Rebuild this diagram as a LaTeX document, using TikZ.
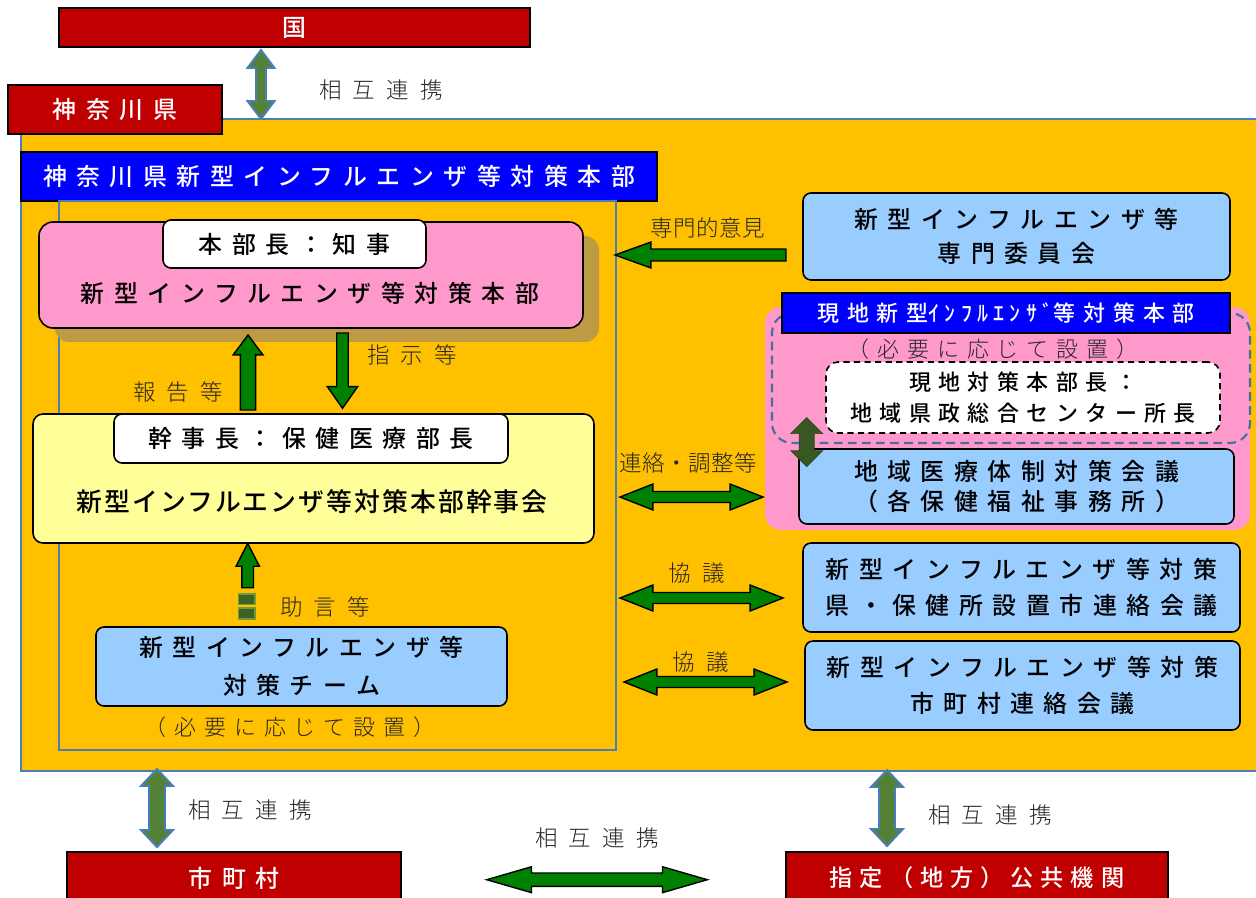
\documentclass[tikz,border=0pt]{standalone}
\usepackage{fontspec}
\IfFontExistsTF{Noto Sans CJK JP Medium}
  {\setmainfont{Noto Sans CJK JP}[BoldFont={Noto Sans CJK JP Medium}]}
  {\setmainfont{Noto Sans CJK JP}}
\IfFontExistsTF{Noto Sans CJK JP Light}
  {\newfontfamily\labfont{Noto Sans CJK JP Light}}
  {\newfontfamily\labfont{Noto Sans CJK JP}}
\usetikzlibrary{calc,positioning,shadows}
\definecolor{kenred}{HTML}{C00000}
\definecolor{panelbg}{HTML}{FFC000}
\definecolor{barblue}{HTML}{0000FF}
\definecolor{pinkbg}{HTML}{FF99CC}
\definecolor{creambg}{HTML}{FFFF99}
\definecolor{skybg}{HTML}{99CCFF}
\definecolor{arrgreen}{HTML}{008000}
\definecolor{arrolive}{HTML}{548235}
\definecolor{arrdark}{HTML}{385723}
\definecolor{frameblue}{HTML}{4A7EBB}
\definecolor{dashblue}{HTML}{41719C}
\definecolor{shadowtan}{HTML}{BE9A45}
\definecolor{labtext}{HTML}{262626}
\definecolor{sqfill}{HTML}{3F6128}
\definecolor{sqedge}{HTML}{6E9A3A}
\newcommand{\pxu}{0.5669pt}
\newcommand{\jpf}[3]{\fontsize{#1}{#2}\selectfont\addfontfeature{LetterSpace=#3}}
\tikzset{
  sz/.style 2 args={minimum width=#1*0.02cm, minimum height=#2*0.02cm, inner sep=0pt, outer sep=0pt},
  panel/.style={draw=frameblue, line width=0.8pt, fill=panelbg},
  innerframe/.style={draw=frameblue, line width=0.8pt},
  redbox/.style={draw=black, line width=0.8pt, fill=kenred, text=white, font=\bfseries\jpf{13.6pt}{20pt}{40}},
  bluebar/.style={draw=black, line width=0.8pt, fill=barblue, text=white, font=\bfseries\jpf{13.6pt}{20pt}{40}},
  pinkbox/.style={draw=black, line width=0.9pt, fill=pinkbg, rounded corners=0.28cm,
    drop shadow={shadow xshift=0.32cm, shadow yshift=-0.28cm, fill=shadowtan, opacity=1}},
  creambox/.style={draw=black, line width=0.9pt, fill=creambg, rounded corners=0.2cm},
  skybox/.style={draw=black, line width=0.9pt, fill=skybg, rounded corners=0.16cm, align=center,
    font=\bfseries\jpf{13.6pt}{20.5pt}{40}},
  whitelab/.style={draw=black, line width=0.9pt, fill=white, rounded corners=0.16cm,
    font=\bfseries\jpf{13.6pt}{20pt}{40}},
  boxtxt/.style={font=\bfseries\jpf{13.6pt}{20pt}{40}},
  pinkregion/.style={fill=pinkbg, rounded corners=0.32cm},
  dashregion/.style={draw=dashblue, line width=1.2pt, dash pattern=on 5pt off 3pt, rounded corners=0.4cm},
  whitedash/.style={draw=black, line width=0.9pt, dash pattern=on 3.5pt off 2.5pt, fill=white,
    rounded corners=0.24cm, align=center, font=\bfseries\jpf{12.5pt}{18pt}{34}},
  lab/.style={text=labtext, font=\labfont\jpf{12.8pt}{16pt}{50}},
  labdense/.style={text=labtext, font=\labfont\jpf{12.8pt}{16pt}{2}},
  setnote/.style={text=labtext, font=\labfont\jpf{12.5pt}{16pt}{36}},
  greenarr/.style={fill=arrgreen, draw=black, line width=0.8pt},
  olivearr/.style={fill=arrolive, draw=frameblue, line width=1.1pt},
  darkarr/.style={fill=arrdark, draw=arrdark!80!black, line width=0.4pt},
  dashsq/.style={fill=sqfill, draw=sqedge, line width=1pt},
  hd/.code args={#1/#2/#3}{\def\hl{#1}\def\hw{#2}\def\sw{#3}},
  rot/.style={shift={(\p1)}, rotate=\n1},
  dblarrow/.style={to path={
    let \p1=(\tikztostart), \p2=(\tikztotarget),
        \n1={atan2(\y2-\y1,\x2-\x1)}, \n2={veclen(\x2-\x1,\y2-\y1)} in
    ([rot]0pt,0pt) -- ([rot]\hl*\pxu,\hw*\pxu) -- ([rot]\hl*\pxu,\sw*\pxu)
    -- ([rot]\n2*1pt-\hl*\pxu,\sw*\pxu) -- ([rot]\n2*1pt-\hl*\pxu,\hw*\pxu) -- ([rot]\n2*1pt,0pt)
    -- ([rot]\n2*1pt-\hl*\pxu,-\hw*\pxu) -- ([rot]\n2*1pt-\hl*\pxu,-\sw*\pxu)
    -- ([rot]\hl*\pxu,-\sw*\pxu) -- ([rot]\hl*\pxu,-\hw*\pxu) -- cycle}},
  sglarrow/.style={to path={
    let \p1=(\tikztostart), \p2=(\tikztotarget),
        \n1={atan2(\y2-\y1,\x2-\x1)}, \n2={veclen(\x2-\x1,\y2-\y1)} in
    ([rot]0pt,\sw*\pxu) -- ([rot]\n2*1pt-\hl*\pxu,\sw*\pxu) -- ([rot]\n2*1pt-\hl*\pxu,\hw*\pxu)
    -- ([rot]\n2*1pt,0pt) -- ([rot]\n2*1pt-\hl*\pxu,-\hw*\pxu) -- ([rot]\n2*1pt-\hl*\pxu,-\sw*\pxu)
    -- ([rot]0pt,-\sw*\pxu) -- cycle}},
}
\begin{document}
\begin{tikzpicture}[x=0.02cm, y=-0.02cm]
\useasboundingbox (0,0) rectangle (1256,898);

% prefecture panel
\node[panel, sz={1241}{652}] (pref) at (641.5,445) {};
\node[redbox, sz={214}{49}] (ken) at (115,109.5) {神奈川県};
\node[redbox, sz={471}{39}] (kuni) at (294.5,27.5) {国};
\node[bluebar, sz={636}{49}] (hq) at (339,176.5) {神奈川県新型インフルエンザ等対策本部};
\node[innerframe, sz={557}{549}] (frame) at (337.5,475.5) {};

% headquarters
\node[pinkbox, sz={544}{106}] (honbu) at (311,275) {};
\node[whitelab, sz={263}{48}] (chief) at (294.5,244) {本部長：知事};
\node[boxtxt] (honbutxt) at (310,293) {新型インフルエンザ等対策本部};

\node[creambox, sz={561}{129}] (kanji) at (313.5,478.5) {};
\node[whitelab, sz={394}{49}] (kanjichief) at (311,438.5) {幹事長：保健医療部長};
\node[font=\bfseries\jpf{14.7pt}{20pt}{8}] (kanjitxt) at (312,502) {新型インフルエンザ等対策本部幹事会};

\node[skybox, sz={411}{79}] (team) at (301.5,666.5) {新型インフルエンザ等\\[1pt]対策チーム};
\node[setnote] (teamnote) at (290,727) {（必要に応じて設置）};

% right column
\node[skybox, sz={427}{87}] (senmon) at (1016.5,236.5) {新型インフルエンザ等\\[-1pt]専門委員会};
\node[pinkregion, sz={485}{223}] (genpink) at (1007.5,418.5) {};
\node[dashregion, sz={478}{130}] (gendash) at (1011,378) {};
\node[bluebar, sz={448}{40}, font=\bfseries\jpf{12.5pt}{18pt}{36}] (genhq) at (1006,313)
  {現地新型{\addfontfeature{LetterSpace=24}ｲﾝﾌﾙｴﾝｻﾞ}等対策本部};
\node[setnote] (gennote) at (993,349) {（必要に応じて設置）};
\node[whitedash, sz={394}{71}] (genchief) at (1023,397.5) {現地対策本部長：\\地域県政総合センター所長};
\node[skybox, sz={435}{75}] (chiiki) at (1016.5,486.5) {地域医療体制対策会議\\[-3pt]（各保健福祉事務所）};
\node[skybox, sz={437}{89}] (kyogi1) at (1021.5,587.5) {新型インフルエンザ等対策\\県・保健所設置市連絡会議};
\node[skybox, sz={435}{89}] (kyogi2) at (1022.5,685.5) {新型インフルエンザ等対策\\市町村連絡会議};

% outside bodies
\node[redbox, sz={334}{52}] (shichoson) at (234,878) {市町村};
\node[redbox, sz={382}{52}, font=\bfseries\jpf{13.2pt}{20pt}{30}] (shitei) at (977,878) {指定（地方）公共機関};

% arrows
\coordinate (a1) at ([shift={(-33.5,3)}]kuni.south);
\draw[olivearr, dblarrow, hd=18/13.5/5] (a1) to (a1 |- pref.north);
\coordinate (b1) at ([shift={(-65.5,-4)}]kanji.north);
\draw[greenarr, sglarrow, hd=20/15/7.7] (b1) to ($(b1 |- honbu.south)+(0,7)$);
\coordinate (c1) at ([shift={(31.5,5)}]honbu.south);
\draw[greenarr, sglarrow, hd=21.7/15.2/5.8] (c1) to ($(c1 |- kanji.north)+(0,-5.7)$);
\coordinate (d1) at ([shift={(-53.8,-39.3)}]team.north);
\draw[greenarr, sglarrow, hd=23/11.7/5.8] (d1) to ($(d1 |- kanji.south)+(0,0.3)$);
\draw[dashsq] ([shift={(-9.3,6)}]d1) rectangle ++(16.7,10.7);
\draw[dashsq] ([shift={(-9.3,20.6)}]d1) rectangle ++(16.7,11);
\coordinate (e1) at ([shift={(-17,18.5)}]senmon.west);
\draw[greenarr, sglarrow, hd=36/13/6] (e1) to ($(e1 -| frame.east)+(-1,0)$);
\draw[greenarr, dblarrow, hd=33/13/5.5] ($(frame.east |- chiiki.west)+(4,10.5)$) to ($(genpink.west |- chiiki.west)+(-2,10.5)$);
\draw[greenarr, dblarrow, hd=33/13/5.5] ($(frame.east |- kyogi1.west)+(4,10.5)$) to ($(kyogi1.west)+(-20,10.5)$);
\draw[greenarr, dblarrow, hd=33/13/5.5] ($(frame.east |- kyogi2.west)+(8,-3.5)$) to ($(kyogi2.west)+(-18,-3.5)$);
\draw[darkarr, dblarrow, hd=16/16/7.5] ($(chiiki.north west)+(7.7,-31.3)$) to ($(chiiki.north west)+(7.7,17.7)$);
\draw[olivearr, dblarrow, hd=17/16/8] ($(pref.south -| shichoson.north)+(-77,-2)$) to ($(shichoson.north)+(-77,-5)$);
\draw[olivearr, dblarrow, hd=17/16/8] ($(pref.south -| shitei.north)+(-90,-1)$) to ($(shitei.north)+(-90,-6)$);
\draw[greenarr, dblarrow, hd=45/13/6.7] ($(shichoson.east)+(85.7,1.7)$) to ($(shitei.west)+(-78.7,1.7)$);

% labels
\node[lab] (lbltop) at (381,90) {相互連携};
\node[lab] (lblshiji) at (412,355) {指示等};
\node[lab] (lblhoukoku) at (178,392) {報告等};
\node[lab] (lbljogen) at (325,607) {助言等};
\node[labdense] (lblsenmon) at (708,228) {専門的意見};
\node[labdense] (lblrenraku) at (688,463) {連絡・調整等};
\node[lab] (lblkyogi1) at (697,573) {協議};
\node[lab] (lblkyogi2) at (701,662) {協議};
\node[lab] (lblshi) at (250,810) {相互連携};
\node[lab] (lblmid) at (597,838) {相互連携};
\node[lab] (lblshitei) at (990,815) {相互連携};
\end{tikzpicture}
\end{document}
